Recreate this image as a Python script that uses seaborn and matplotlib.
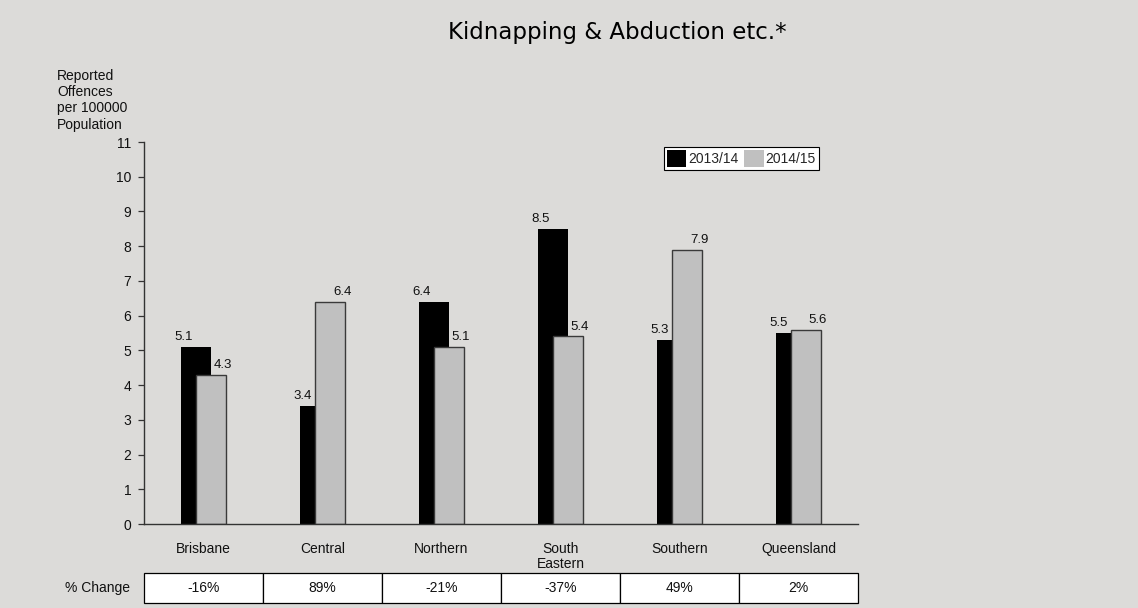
import pandas as pd
import seaborn as sns
import matplotlib.pyplot as plt
from matplotlib.patches import Patch

# data
regions = ["Brisbane", "Central", "Northern", "South\nEastern", "Southern", "Queensland"]
rate_1314 = [5.1, 3.4, 6.4, 8.5, 5.3, 5.5]
rate_1415 = [4.3, 6.4, 5.1, 5.4, 7.9, 5.6]
pct_change = ["-16%", "89%", "-21%", "-37%", "49%", "2%"]
years = ["2013/14", "2014/15"]

bg = "#dcdbd9"
colors = {"2013/14": "#000000", "2014/15": "#c0c0c0"}

df = pd.DataFrame({
    "region": regions * 2,
    "rate": rate_1314 + rate_1415,
    "year": [years[0]] * len(regions) + [years[1]] * len(regions),
})

sns.set_style("white")
plt.rcParams["font.family"] = ["Liberation Sans", "DejaVu Sans"]

fig = plt.figure(figsize=(11.38, 6.08), dpi=100, facecolor=bg)
ax = fig.add_axes([144 / 1138, 1 - 524 / 608, 714 / 1138, 382 / 608])
ax.set_facecolor(bg)

sns.barplot(data=df, x="region", y="rate", hue="year", hue_order=years,
            palette=colors, width=0.5, errorbar=None, ax=ax, legend=False,
            saturation=1)

# bars overlap by half their width, grey on top
shift = 0.0625
for i, cont in enumerate(ax.containers):
    for bar in cont:
        bar.set_x(bar.get_x() + (shift if i == 0 else -shift))
        bar.set_width(0.252)
        if i == 0:
            bar.set_edgecolor("#000000")
            bar.set_linewidth(0)
        else:
            bar.set_edgecolor("#3a3a3a")
            bar.set_linewidth(1.0)

# value labels: black over bar start, grey over bar end
for i, cont in enumerate(ax.containers):
    for bar in cont:
        h = bar.get_height()
        if i == 0:
            x = bar.get_x() + 0.017
        else:
            x = bar.get_x() + bar.get_width() - 0.025
        ax.annotate(f"{h:.1f}", (x, h), xytext=(0, 5), textcoords="offset points",
                    ha="center", va="baseline", fontsize=9.5, color="#111111")

ax.set_xlim(-0.5, 5.5)
ax.set_ylim(0, 11)
ax.set_yticks(range(0, 12))
ax.set_xlabel("")
ax.set_ylabel("")
for s in ["top", "right"]:
    ax.spines[s].set_visible(False)
for s in ["left", "bottom"]:
    ax.spines[s].set_color("#333333")
    ax.spines[s].set_linewidth(1.0)
ax.tick_params(axis="y", left=True, direction="out", length=4, width=0.9,
               color="#333333", pad=5, labelsize=10, labelcolor="#111111")
ax.tick_params(axis="x", bottom=False, length=0, pad=13, labelsize=10,
               labelcolor="#111111")
for lbl in ax.get_xticklabels():
    lbl.set_linespacing(1.05)

# % change table under the axis
tbl = ax.table(cellText=[pct_change], cellLoc="center",
               bbox=[0, -(603 - 524) / 382, 1, 30 / 382])
tbl.auto_set_font_size(False)
tbl.set_fontsize(10)
for cell in tbl.get_celld().values():
    cell.set_facecolor("white")
    cell.set_edgecolor("#000000")
    cell.set_linewidth(0.9)
    cell.get_text().set_color("#111111")
ax.text(-0.02, -(588 - 524) / 382, "% Change", transform=ax.transAxes,
        ha="right", va="center", fontsize=10, color="#111111")

# legend
handles = [Patch(facecolor=colors[y], edgecolor="none") for y in years]
leg = fig.legend(handles, years, loc="upper left",
                 bbox_to_anchor=(664 / 1138, 1 - 147 / 608), ncol=2,
                 fontsize=10, frameon=True, fancybox=False, framealpha=1,
                 handlelength=1.4, handleheight=1.5, handletextpad=0.15,
                 columnspacing=0.4, borderpad=0.2, borderaxespad=0)
leg.get_frame().set_edgecolor("#000000")
leg.get_frame().set_linewidth(0.8)
leg.get_frame().set_facecolor("white")

fig.text(57 / 1138, 1 - 69 / 608, "Reported\nOffences\nper 100000\nPopulation",
         ha="left", va="top", fontsize=10, linespacing=1.2, color="#111111")
fig.text(617 / 1138, 1 - 33 / 608, "Kidnapping & Abduction etc.*", ha="center",
         va="center", fontsize=16.5, family=["DejaVu Sans"], color="#000000")

fig.savefig("out.png", dpi=100, facecolor=bg)
